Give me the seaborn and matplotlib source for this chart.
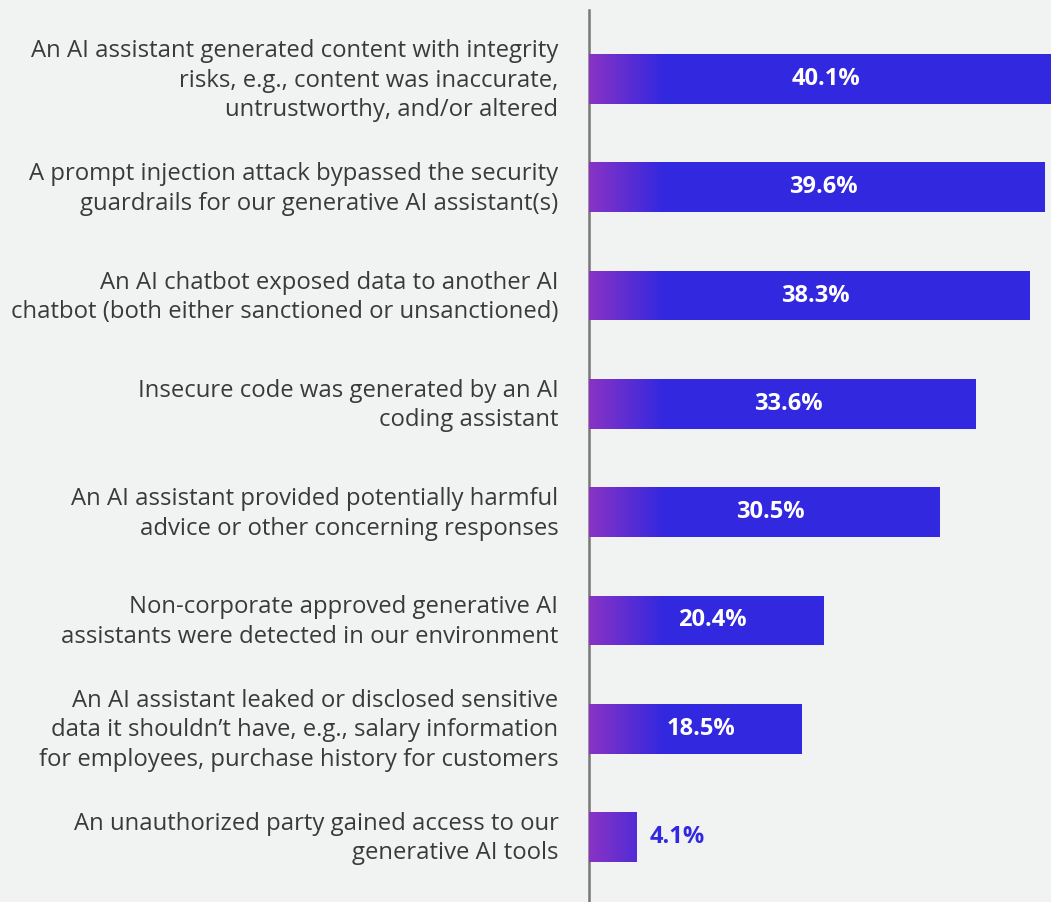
import numpy as np
import pandas as pd
import matplotlib
matplotlib.use("Agg")
import matplotlib.pyplot as plt
import matplotlib.transforms as mtransforms
from matplotlib.colors import LinearSegmentedColormap
import seaborn as sns

# Survey responses: AI-related security incidents experienced
categories = [
    "An AI assistant generated content with integrity\nrisks, e.g., content was inaccurate,\nuntrustworthy, and/or altered",
    "A prompt injection attack bypassed the security\nguardrails for our generative AI assistant(s)",
    "An AI chatbot exposed data to another AI\nchatbot (both either sanctioned or unsanctioned)",
    "Insecure code was generated by an AI\ncoding assistant",
    "An AI assistant provided potentially harmful\nadvice or other concerning responses",
    "Non-corporate approved generative AI\nassistants were detected in our environment",
    "An AI assistant leaked or disclosed sensitive\ndata it shouldn\u2019t have, e.g., salary information\nfor employees, purchase history for customers",
    "An unauthorized party gained access to our\ngenerative AI tools",
]
values = [40.1, 39.6, 38.3, 33.6, 30.5, 20.4, 18.5, 4.1]
value_labels = ["40.1%", "39.6%", "38.3%", "33.6%", "30.5%", "20.4%", "18.5%", "4.1%"]

BG = "#f1f3f2"
BLUE = "#3228e0"
PURPLE = "#8a33c4"
TEXT = "#3a3a3a"

sns.set_theme(style="white")
plt.rcParams["font.family"] = ["Open Sans", "DejaVu Sans"]

df = pd.DataFrame({"item": categories, "pct": values})

W, H = 1051, 902
fig = plt.figure(figsize=(W / 100, H / 100), dpi=100, facecolor=BG)
ax = fig.add_axes([589 / W, 0, 1 - 589 / W, (H - 10) / H])
ax.set_facecolor(BG)

sns.barplot(data=df, y="item", x="pct", orient="h", color=BLUE,
            width=0.46, saturation=1, ax=ax, zorder=2)

# Purple-to-blue fade at the start of each bar
cmap = LinearSegmentedColormap.from_list("fade", [PURPLE, BLUE])
grad = np.linspace(0, 1, 256).reshape(1, -1)
fade_len = 6.5
for p in ax.patches:
    p.set_edgecolor("none")
    y0, h = p.get_y(), p.get_height()
    im = ax.imshow(grad, cmap=cmap, aspect="auto", interpolation="bilinear",
                   extent=[0, fade_len, y0 + h, y0], zorder=3)
    im.set_clip_path(p)

ax.set_xlim(0, 40.1)
ax.set_ylim(7.6, -0.637)

# Value labels
for i, (v, lab) in enumerate(zip(values, value_labels)):
    if v > 10:
        ax.text(v / 2 + 0.5, i, lab, ha="center", va="center", color="white",
                fontsize=17, fontweight="bold", zorder=4)
    else:
        ax.text(v + 1.2, i, lab, ha="left", va="center", color=BLUE,
                fontsize=17, fontweight="bold", zorder=4)

ax.set_xlabel("")
ax.set_ylabel("")
ax.set_xticks([])
ax.tick_params(axis="y", length=0, pad=22, labelsize=17.2, labelcolor=TEXT)
lift = mtransforms.ScaledTranslation(0, 4 / 100, fig.dpi_scale_trans)
for t in ax.get_yticklabels():
    t.set_linespacing(1.3)
    t.set_transform(t.get_transform() + lift)

for s in ["top", "right", "bottom"]:
    ax.spines[s].set_visible(False)
ax.spines["left"].set_color("#777777")
ax.spines["left"].set_linewidth(1.8)

fig.savefig("out.png", dpi=100, facecolor=BG)
